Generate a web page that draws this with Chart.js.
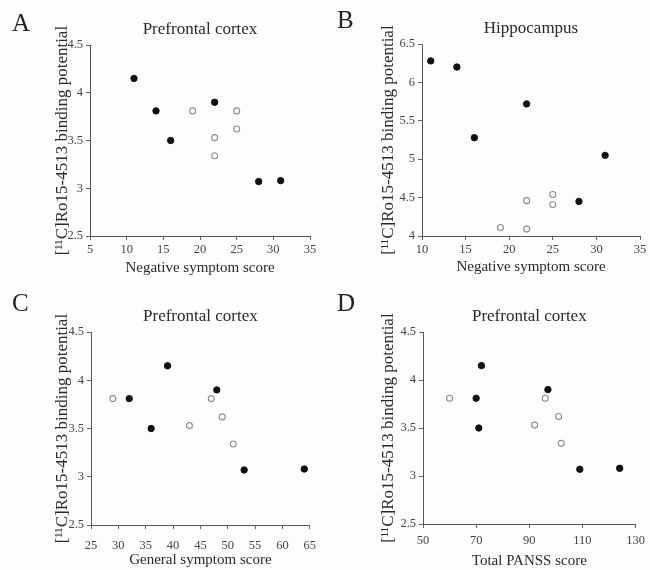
<!DOCTYPE html>
<html>
<head>
<meta charset="utf-8">
<script src="https://cdn.jsdelivr.net/npm/chart.js@4.4.1/dist/chart.umd.min.js"></script>
<style>
    body { margin: 0; background: #fdfdfb; }
    #page { position: relative; width: 650px; height: 570px; background: #fdfdfb; }
    .panel { position: absolute; width: 325px; height: 285px; }
    .letter { position: absolute; font-family: 'Liberation Serif', serif; font-size: 25px; line-height: 25px; color: #222; }
</style>
</head>
<body>
<div id="page">
    <div class="panel" style="left:0;top:0"><canvas id="chartA" width="325" height="285"></canvas></div>
    <div class="panel" style="left:325px;top:0"><canvas id="chartB" width="325" height="285"></canvas></div>
    <div class="panel" style="left:0;top:285px"><canvas id="chartC" width="325" height="285"></canvas></div>
    <div class="panel" style="left:325px;top:285px"><canvas id="chartD" width="325" height="285"></canvas></div>
    <div class="letter" style="left:12px;top:10px">A</div>
    <div class="letter" style="left:337px;top:7px">B</div>
    <div class="letter" style="left:12px;top:290px">C</div>
    <div class="letter" style="left:337px;top:290px">D</div>
</div>
<script>
// filled symbols (same subjects in every panel, same order)
const filledNegative = [11, 14, 16, 22, 28, 31];
const filledGeneral = [39, 32, 36, 48, 53, 64];
const filledTotal = [72, 70, 71, 97, 109, 124];
const filledPrefrontal = [4.15, 3.81, 3.5, 3.9, 3.07, 3.08];
const filledHippocampus = [6.28, 6.2, 5.28, 5.72, 4.45, 5.05];

// open symbols
const openNegative = [19, 22, 22, 25, 25];
const openGeneral = [29, 43, 51, 47, 49];
const openTotal = [60, 92, 102, 96, 101];
const openPrefrontal = [3.81, 3.53, 3.34, 3.81, 3.62];
const openHippocampus = [4.11, 4.46, 4.09, 4.54, 4.41];

const yTitle = '[\u00B9\u00B9C]Ro15-4513 binding potential';
const fontFamily = "'Liberation Serif', 'Times New Roman', serif";

function toPoints(xs, ys) {
    return xs.map((x, i) => ({ x: x, y: ys[i] }));
}

// geometry: left/right/top/bottom of the plot area, centres of axis titles
function makePanel(id, cfg) {
    const padLeft = 30;
    new Chart(document.getElementById(id).getContext('2d'), {
        type: 'scatter',
        data: {
            datasets: [{
                data: toPoints(cfg.filledX, cfg.filledY),
                backgroundColor: '#111',
                borderColor: '#111',
                borderWidth: 1,
                pointRadius: 3.2
            }, {
                data: toPoints(cfg.openX, cfg.openY),
                backgroundColor: 'rgba(255,255,255,0)',
                borderColor: '#8c8c8c',
                borderWidth: 1.1,
                pointRadius: 3
            }]
        },
        options: {
            responsive: false,
            animation: false,
            layout: {
                padding: { left: padLeft, right: 325 - cfg.right, top: 0, bottom: 0 }
            },
            plugins: {
                legend: { display: false },
                tooltip: { enabled: false },
                title: {
                    display: true,
                    text: cfg.title,
                    fullSize: false,
                    color: '#2a2a2a',
                    font: { family: fontFamily, size: 17, weight: 'normal', lineHeight: '20px' },
                    padding: { top: cfg.top - 25, bottom: 5 }
                }
            },
            scales: {
                x: {
                    type: 'linear',
                    min: cfg.xMin,
                    max: cfg.xMax,
                    afterFit: function(scale) { scale.height = 285 - cfg.bottom; },
                    ticks: {
                        stepSize: cfg.xStep,
                        padding: cfg.xTickPad,
                        color: '#444',
                        font: { family: fontFamily, size: 12.5 }
                    },
                    grid: { drawOnChartArea: false, drawTicks: true, tickLength: 4, color: '#666' },
                    border: { display: true, color: '#555', width: 1 },
                    title: {
                        display: true,
                        text: cfg.xTitle,
                        color: '#2a2a2a',
                        font: { family: fontFamily, size: 15, lineHeight: '18px' },
                        padding: { top: 0, bottom: Math.max(0, 285 - cfg.xTitleY - 9) }
                    }
                },
                y: {
                    min: cfg.yMin,
                    max: cfg.yMax,
                    afterFit: function(scale) { scale.width = cfg.left - padLeft; },
                    ticks: {
                        stepSize: 0.5,
                        padding: 3,
                        color: '#444',
                        font: { family: fontFamily, size: 12.5 },
                        callback: function(value) { return String(value); }
                    },
                    grid: { drawOnChartArea: false, drawTicks: true, tickLength: 4, color: '#666' },
                    border: { display: true, color: '#555', width: 1 },
                    title: {
                        display: true,
                        text: yTitle,
                        color: '#2a2a2a',
                        font: { family: fontFamily, size: 17, lineHeight: '20px' },
                        padding: { top: cfg.yTitleX - padLeft - 10, bottom: 0 }
                    }
                }
            }
        }
    });
}

makePanel('chartA', {
    title: 'Prefrontal cortex', xTitle: 'Negative symptom score',
    filledX: filledNegative, filledY: filledPrefrontal, openX: openNegative, openY: openPrefrontal,
    xMin: 5, xMax: 35, xStep: 5, yMin: 2.5, yMax: 4.5,
    left: 90, right: 310, top: 45, bottom: 236, yTitleX: 63, xTitleY: 268, xTickPad: 2
});
makePanel('chartB', {
    title: 'Hippocampus', xTitle: 'Negative symptom score',
    filledX: filledNegative, filledY: filledHippocampus, openX: openNegative, openY: openHippocampus,
    xMin: 10, xMax: 35, xStep: 5, yMin: 4, yMax: 6.5,
    left: 97, right: 315, top: 44, bottom: 236, yTitleX: 64, xTitleY: 267, xTickPad: 2
});
makePanel('chartC', {
    title: 'Prefrontal cortex', xTitle: 'General symptom score',
    filledX: filledGeneral, filledY: filledPrefrontal, openX: openGeneral, openY: openPrefrontal,
    xMin: 25, xMax: 65, xStep: 5, yMin: 2.5, yMax: 4.5,
    left: 91, right: 312, top: 47, bottom: 240, yTitleX: 63, xTitleY: 275, xTickPad: 9
});
makePanel('chartD', {
    title: 'Prefrontal cortex', xTitle: 'Total PANSS score',
    filledX: filledTotal, filledY: filledPrefrontal, openX: openTotal, openY: openPrefrontal,
    xMin: 50, xMax: 130, xStep: 20, yMin: 2.5, yMax: 4.5,
    left: 98, right: 313, top: 47, bottom: 239, yTitleX: 64, xTitleY: 277, xTickPad: 5
});
</script>
</body>
</html>
